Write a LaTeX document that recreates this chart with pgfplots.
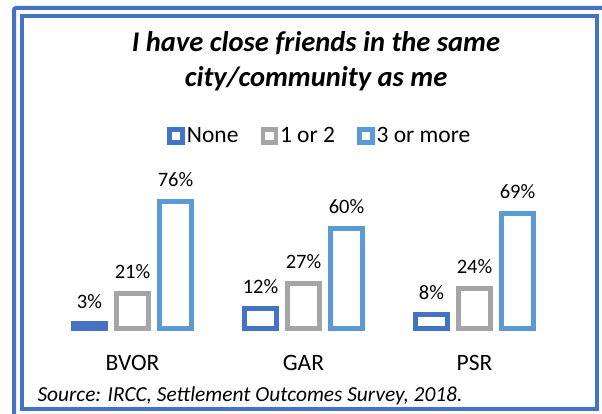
\documentclass[border=0pt]{standalone}
\usepackage{pgfplots}
\pgfplotsset{compat=1.18}
\usepackage{fontspec}
\setmainfont{Carlito}
\definecolor{cNone}{HTML}{4472C4}
\definecolor{cOne}{HTML}{A5A5A5}
\definecolor{cThree}{HTML}{5B9BD5}
\definecolor{frameblue}{HTML}{4472C4}
\begin{document}
\begin{tikzpicture}
\path[use as bounding box] (0,0) rectangle (602bp,414bp);
\clip (0,0) rectangle (602bp,414bp);
\fill[white] (0,0) rectangle (602bp,414bp);
% frames
\draw[frameblue, line width=4bp, rounded corners=2bp] (14bp,406bp) rectangle (640bp,-30bp);
\draw[frameblue, line width=4bp] (22bp,398bp) rectangle (596.5bp,5bp);
% title
\node[anchor=base, font=\fontsize{28.5bp}{34bp}\selectfont\bfseries\itshape, inner sep=0pt] at (316bp,362bp) {I have close friends in the same};
\node[anchor=base, font=\fontsize{28.5bp}{34bp}\selectfont\bfseries\itshape, inner sep=0pt] at (316bp,327.3bp) {city/community as me};
% source
\node[anchor=base west, font=\fontsize{21.4bp}{25bp}\selectfont\itshape, inner sep=0pt] at (37.3bp,12.3bp) {Source: IRCC, Settlement Outcomes Survey, 2018.};
\begin{axis}[
  at={(47bp,85.8bp)}, anchor=south west,
  scale only axis, width=513bp, height=166.5bp,
  xmin=-0.5, xmax=2.5, ymin=0, ymax=100,
  clip=false,
  ybar=11bp, bar width=32bp,
  axis line style={draw=none},
  major tick style={draw=none},
  ytick=\empty,
  xtick={0,1,2}, xticklabels={BVOR,GAR,PSR},
  xticklabel style={anchor=base, yshift=-38.5bp, font=\fontsize{23.5bp}{28bp}\selectfont},
  /pgf/number format/assume math mode=true,
  nodes near coords={\pgfmathprintnumber{\pgfplotspointmeta}\%},
  nodes near coords style={anchor=base, yshift=15bp, inner sep=0pt, font=\fontsize{20.5bp}{25bp}\selectfont, text=black},
  legend columns=3,
  legend style={at={(0.532,1.154)}, anchor=center, draw=none, fill=none,
    inner sep=0pt, font=\fontsize{23.5bp}{28bp}\selectfont,
    nodes={inner xsep=2bp, inner ysep=0pt},
    /tikz/every odd column/.append style={column sep=0bp},
    /tikz/every even column/.append style={column sep=20bp}},
  legend cell align=left,
  legend image code/.code={\draw[#1, line width=4.5bp, fill=white] (0bp,-6.5bp) rectangle (13bp,6.5bp);},
]
\addplot[draw=cNone, fill=white, line width=5bp] coordinates {(0,3) (1,12) (2,8)};
\addplot[draw=cOne, fill=white, line width=5bp] coordinates {(0,21) (1,27) (2,24)};
\addplot[draw=cThree, fill=white, line width=5bp] coordinates {(0,76) (1,60) (2,69)};
\legend{None,1 or 2,3 or more}
\end{axis}
\end{tikzpicture}
\end{document}
